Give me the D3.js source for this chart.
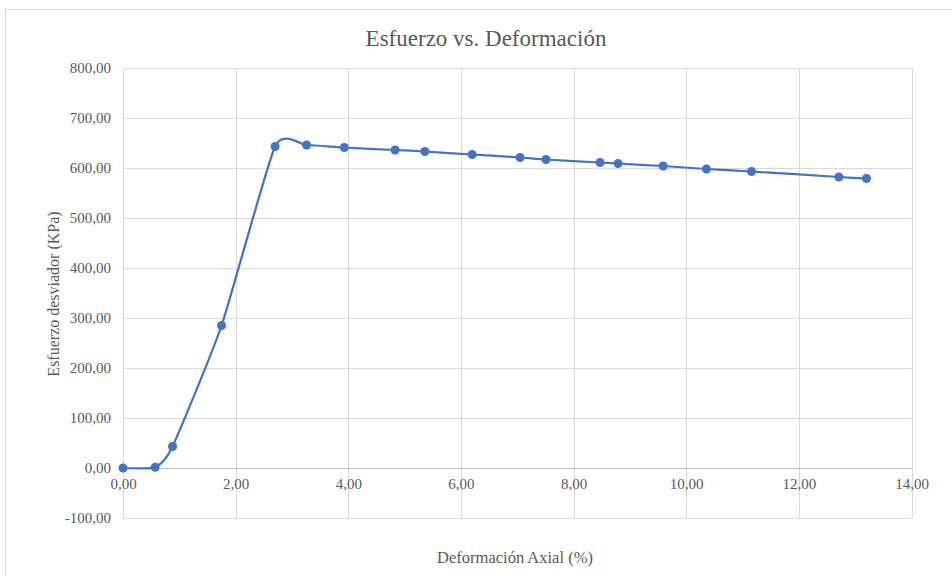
<!DOCTYPE html>
<html>
<head>
<meta charset="utf-8">
<script src="https://cdn.jsdelivr.net/npm/d3@7"></script>
<style>
  html, body { margin: 0; padding: 0; background: #fff; }
  svg { display: block; }
</style>
</head>
<body>
<script>
// Ensayo triaxial: deformación axial (%) vs esfuerzo desviador (KPa)
const deformacion = [0.00, 0.57, 0.88, 1.75, 2.70, 3.26, 3.93, 4.83, 5.36, 6.20, 7.05, 7.51, 8.47, 8.79, 9.59, 10.36, 11.16, 12.71, 13.20];
const esfuerzo    = [0.0, 1.5, 43, 285, 643, 646, 641, 636, 633, 627, 621, 617, 611, 609, 604, 598, 593, 582, 579];
const xTicks = [0, 2, 4, 6, 8, 10, 12, 14];
const yTicks = [-100, 0, 100, 200, 300, 400, 500, 600, 700, 800];

const W = 952, H = 576;
const plot = { left: 123, right: 911.5, top: 68, bottom: 518 };
const font = "'Liberation Serif', 'Times New Roman', serif";
const textColor = "#595959";

// decimal comma, plain hyphen for negatives
const fmt = v => v.toFixed(2).replace(".", ",");

const svg = d3.select("body").append("svg").attr("width", W).attr("height", H);

// chart area border
svg.append("rect")
  .attr("x", 5.5).attr("y", 9.5).attr("width", W + 10).attr("height", H + 10)
  .attr("fill", "#fff").attr("stroke", "#d9d9d9").attr("stroke-width", 1);

const x = d3.scaleLinear().domain([0, 14]).range([plot.left, plot.right]);
const y = d3.scaleLinear().domain([-100, 800]).range([plot.bottom, plot.top]);

// gridlines
svg.append("g").selectAll("line").data(xTicks).join("line")
  .attr("x1", d => Math.round(x(d)) + 0.5).attr("x2", d => Math.round(x(d)) + 0.5)
  .attr("y1", plot.top).attr("y2", plot.bottom)
  .attr("stroke", "#d9d9d9").attr("stroke-width", 1);
svg.append("g").selectAll("line").data(yTicks).join("line")
  .attr("x1", plot.left).attr("x2", plot.right)
  .attr("y1", d => Math.round(y(d)) + 0.5).attr("y2", d => Math.round(y(d)) + 0.5)
  .attr("stroke", d => d === 0 ? "#bfbfbf" : "#d9d9d9").attr("stroke-width", 1);

// y axis labels
const yAxis = d3.axisLeft(y).tickValues(yTicks).tickFormat(fmt).tickSize(0).tickPadding(12);
svg.append("g").attr("transform", `translate(${plot.left},0)`).call(yAxis)
  .call(g => g.select(".domain").remove())
  .call(g => g.selectAll("text").attr("font-family", font).attr("font-size", 15).attr("fill", textColor));

// x axis labels sit next to the zero line
const xAxis = d3.axisBottom(x).tickValues(xTicks).tickFormat(fmt).tickSize(0).tickPadding(10);
svg.append("g").attr("transform", `translate(0,${y(0)})`).call(xAxis)
  .call(g => g.select(".domain").remove())
  .call(g => g.selectAll("text").attr("font-family", font).attr("font-size", 15).attr("fill", textColor));

// title and axis titles
svg.append("text").attr("x", 486).attr("y", 46).attr("text-anchor", "middle")
  .attr("font-family", font).attr("font-size", 23).attr("fill", textColor)
  .text("Esfuerzo vs. Deformación");
svg.append("text").attr("x", 515).attr("y", 563).attr("text-anchor", "middle")
  .attr("font-family", font).attr("font-size", 16.5).attr("fill", textColor)
  .text("Deformación Axial (%)");
svg.append("text").attr("transform", `translate(59,294) rotate(-90)`).attr("text-anchor", "middle")
  .attr("font-family", font).attr("font-size", 16).attr("fill", textColor)
  .text("Esfuerzo desviador (KPa)");

// smoothed series line and markers
const pts = deformacion.map((d, i) => [d, esfuerzo[i]]);
const line = d3.line().x(d => x(d[0])).y(d => y(d[1])).curve(d3.curveCardinal.tension(0.45));
svg.append("path").datum(pts).attr("d", line)
  .attr("fill", "none").attr("stroke", "#4472c4").attr("stroke-width", 2.25)
  .attr("stroke-linejoin", "round");
svg.append("g").selectAll("circle").data(pts).join("circle")
  .attr("cx", d => x(d[0])).attr("cy", d => y(d[1])).attr("r", 4.5)
  .attr("fill", "#4472c4");
</script>
</body>
</html>
